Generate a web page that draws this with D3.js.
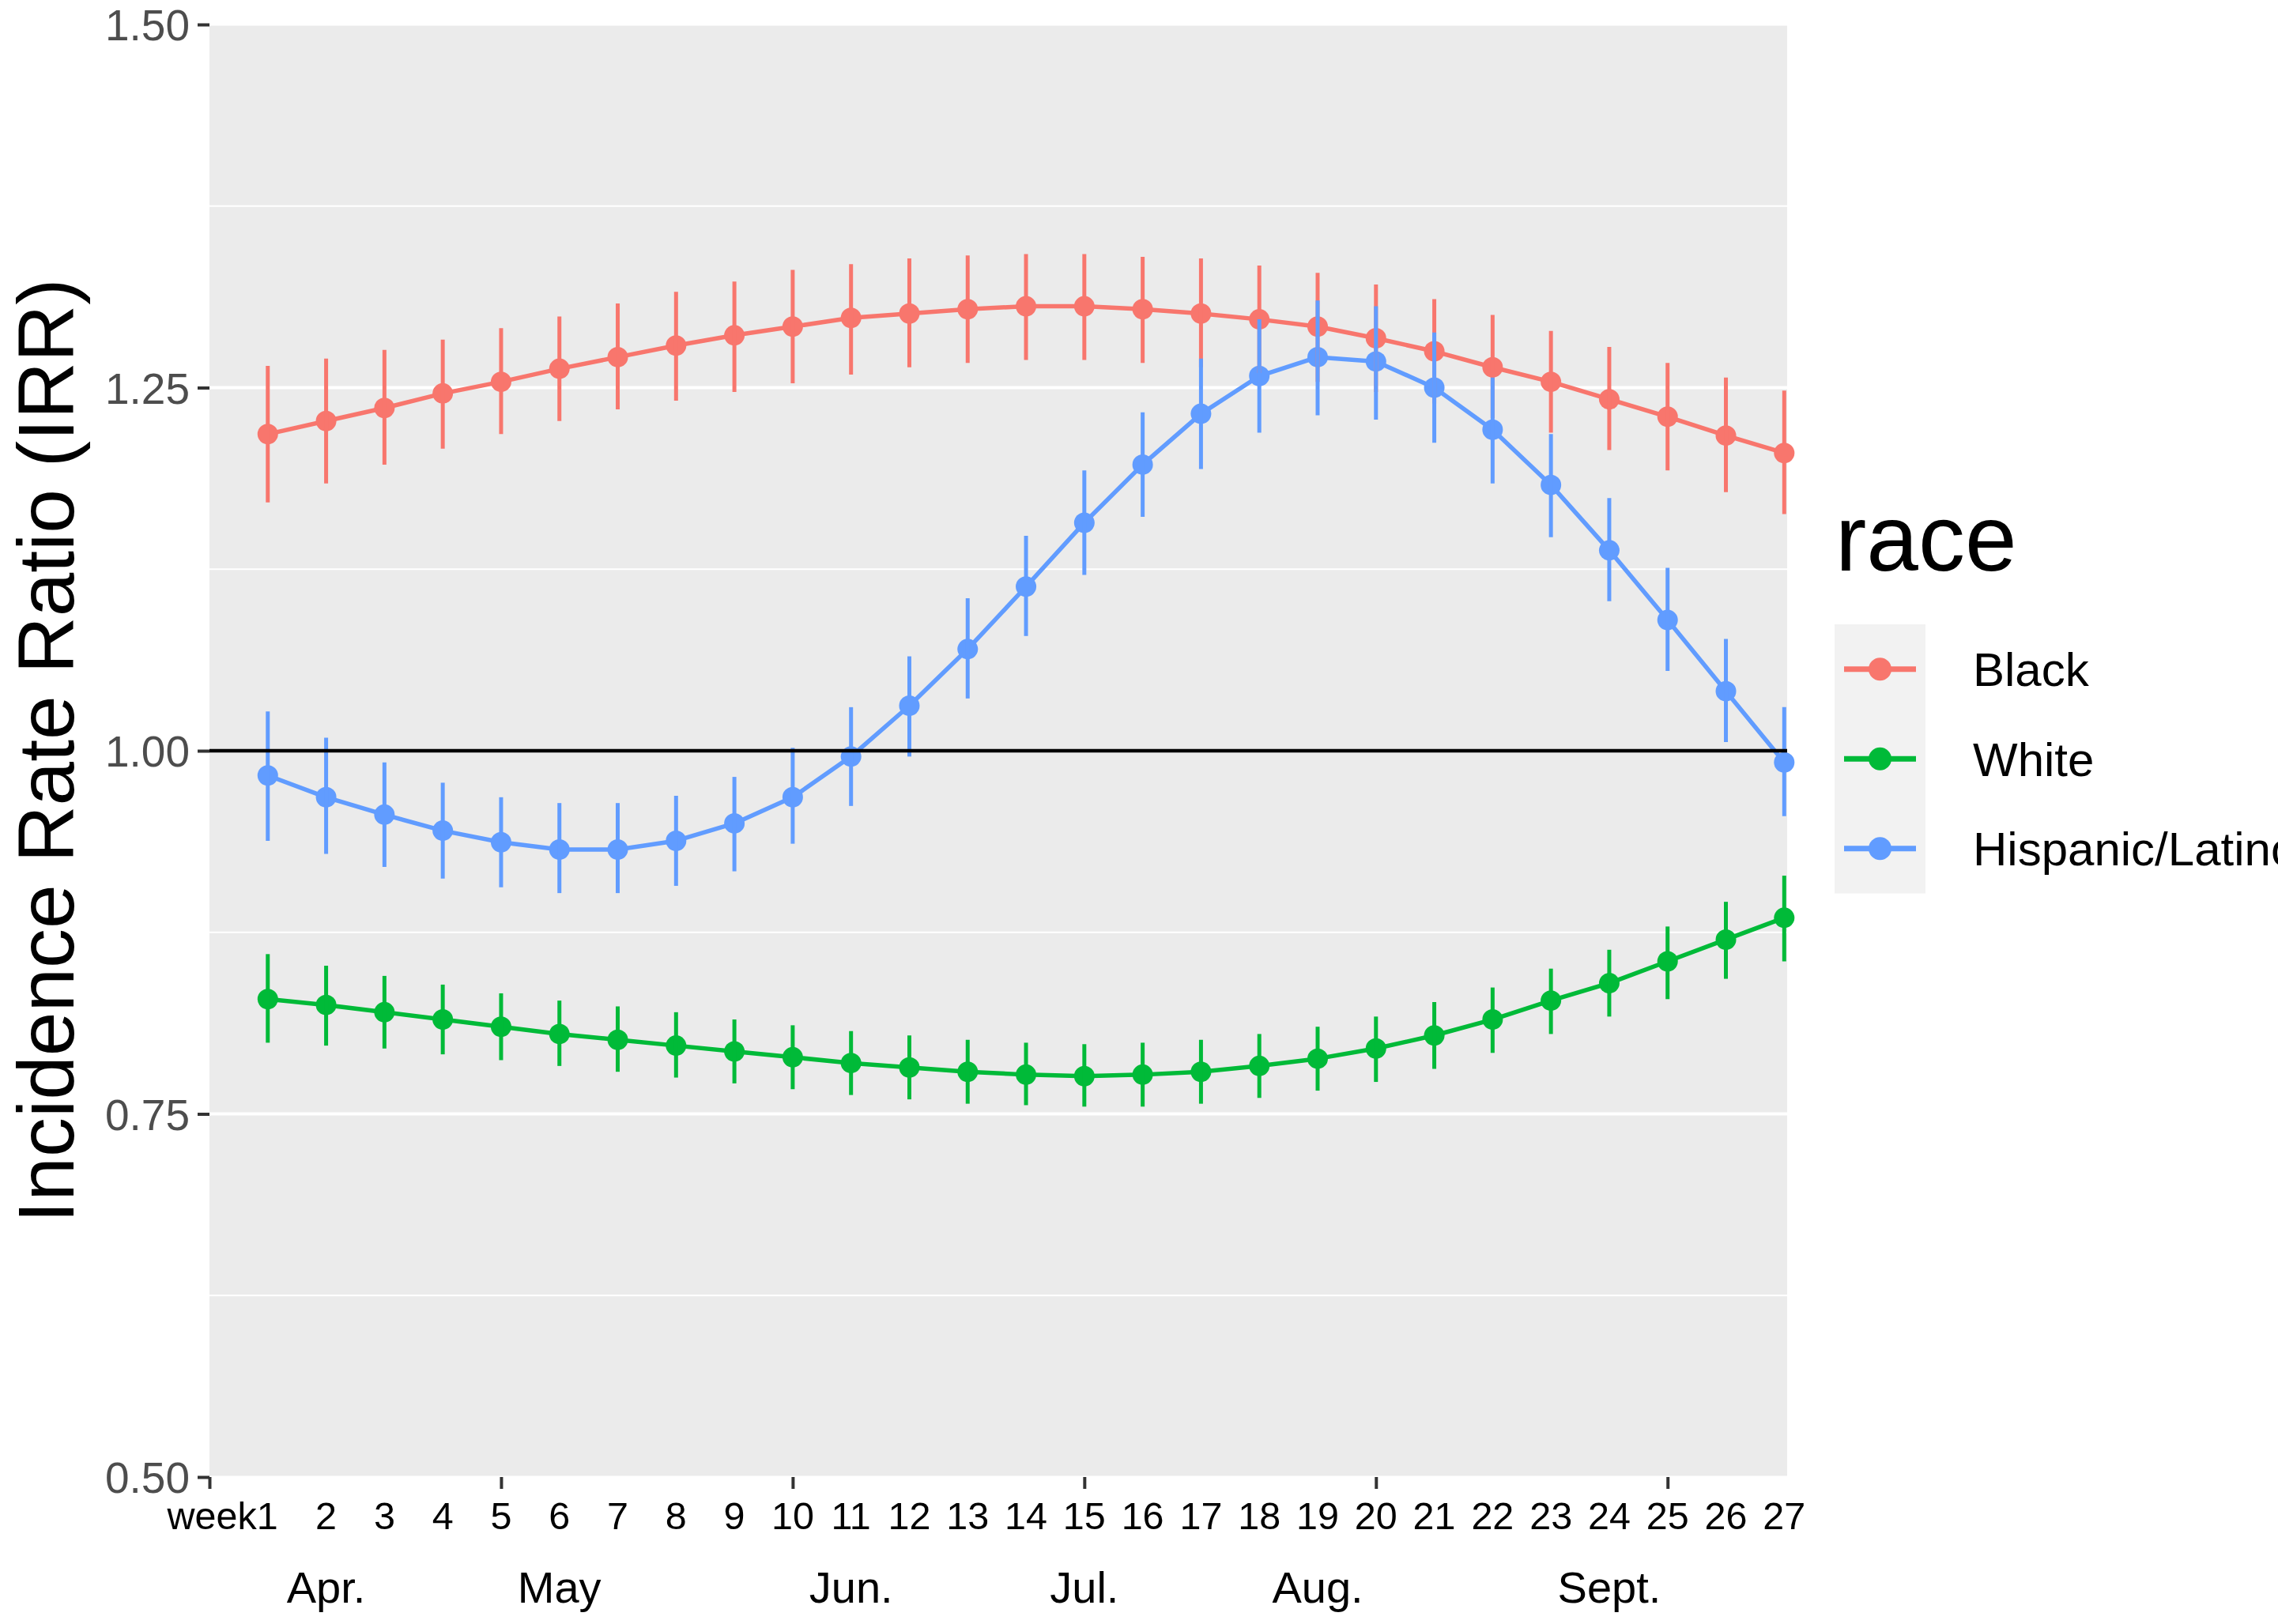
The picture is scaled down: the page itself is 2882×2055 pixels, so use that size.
<!DOCTYPE html>
<html>
<head>
<meta charset="utf-8">
<script src="https://cdn.jsdelivr.net/npm/d3@7"></script>
<style>
html, body { margin: 0; padding: 0; background: #ffffff; }
svg { display: block; }
text { font-family: "Liberation Sans", Arial, Helvetica, sans-serif; }
</style>
</head>
<body>
<script>
// ---------- data ----------
const weeks = [1,2,3,4,5,6,7,8,9,10,11,12,13,14,15,16,17,18,19,20,21,22,23,24,25,26,27];
const races = ["Black", "White", "Hispanic/Latino"];
const raceColors = ["#F8766D", "#00BA38", "#619CFF"];

const blackIRR   = [1.218,1.227,1.236,1.246,1.254,1.263,1.271,1.279,1.286,1.292,1.298,1.301,1.304,1.306,1.306,1.304,1.301,1.297,1.292,1.284,1.275,1.264,1.254,1.242,1.230,1.217,1.205];
const blackLow   = [1.171,1.184,1.197,1.208,1.218,1.227,1.235,1.241,1.247,1.253,1.259,1.264,1.267,1.269,1.269,1.267,1.264,1.260,1.254,1.247,1.239,1.229,1.219,1.207,1.193,1.178,1.163];
const blackHigh  = [1.265,1.270,1.276,1.283,1.291,1.299,1.308,1.316,1.323,1.331,1.335,1.339,1.341,1.342,1.342,1.340,1.339,1.334,1.329,1.321,1.311,1.300,1.289,1.278,1.267,1.257,1.248];

const whiteIRR   = [0.829,0.825,0.820,0.815,0.810,0.805,0.801,0.797,0.793,0.789,0.785,0.782,0.779,0.777,0.776,0.777,0.779,0.783,0.788,0.795,0.804,0.815,0.828,0.840,0.855,0.870,0.885];
const whiteLow   = [0.799,0.797,0.795,0.791,0.787,0.783,0.779,0.775,0.771,0.767,0.763,0.760,0.757,0.756,0.755,0.755,0.757,0.761,0.766,0.772,0.781,0.792,0.805,0.817,0.829,0.843,0.855];
const whiteHigh  = [0.860,0.852,0.845,0.839,0.833,0.828,0.824,0.820,0.815,0.811,0.807,0.804,0.801,0.799,0.798,0.799,0.801,0.805,0.810,0.817,0.827,0.837,0.850,0.863,0.879,0.896,0.914];

const hispIRR    = [0.983,0.968,0.956,0.945,0.937,0.932,0.932,0.938,0.950,0.968,0.996,1.031,1.070,1.113,1.157,1.197,1.232,1.258,1.271,1.268,1.250,1.221,1.183,1.138,1.090,1.041,0.992];
const hispLow    = [0.938,0.929,0.920,0.912,0.906,0.902,0.902,0.907,0.917,0.936,0.962,0.996,1.036,1.079,1.121,1.161,1.194,1.219,1.231,1.228,1.212,1.184,1.147,1.103,1.055,1.006,0.955];
const hispHigh   = [1.027,1.009,0.992,0.978,0.968,0.964,0.964,0.969,0.982,1.002,1.030,1.065,1.105,1.148,1.193,1.233,1.270,1.297,1.310,1.306,1.288,1.257,1.218,1.174,1.126,1.077,1.030];

const yTickValues = [0.50, 0.75, 1.00, 1.25, 1.50];
const yMinorValues = [0.625, 0.875, 1.125, 1.375];
const xTickValues = [0, 5, 10, 15, 20, 25];
const weekLabels = ["week1","2","3","4","5","6","7","8","9","10","11","12","13","14","15","16","17","18","19","20","21","22","23","24","25","26","27"];
const monthLabels = ["Apr.", "May", "Jun.", "Jul.", "Aug.", "Sept."];
const monthWeeks = [2, 6, 11, 15, 19, 24];
const yTitle = "Incidence Rate Ratio (IRR)";
const legendTitle = "race";

// ---------- build series ----------
const series = [
  { name: races[0], color: raceColors[0], est: blackIRR, lo: blackLow, hi: blackHigh },
  { name: races[1], color: raceColors[1], est: whiteIRR, lo: whiteLow, hi: whiteHigh },
  { name: races[2], color: raceColors[2], est: hispIRR,  lo: hispLow,  hi: hispHigh }
].map(s => ({ ...s, pts: weeks.map((w, i) => ({ w, v: s.est[i], lo: s.lo[i], hi: s.hi[i] })) }));

// ---------- layout ----------
const W = 2882, H = 2055;
const panel = { left: 265, right: 2261, top: 31, bottom: 1869 };

const svg = d3.select("body").append("svg").attr("width", W).attr("height", H);

const x = d3.scaleLinear().domain([0, 27.05]).range([panel.left, panel.right]);
const y = d3.scaleLinear().domain([0.5, 1.5]).range([panel.bottom, panel.top]);

// panel background
svg.append("rect")
  .attr("x", panel.left).attr("y", y(1.5) + 1.5)
  .attr("width", panel.right - panel.left).attr("height", y(0.5) - y(1.5) - 3)
  .attr("fill", "#EBEBEB");

svg.append("defs").append("clipPath").attr("id", "pclip")
  .append("rect").attr("x", panel.left).attr("y", panel.top)
  .attr("width", panel.right - panel.left).attr("height", panel.bottom - panel.top);

const grid = svg.append("g").attr("clip-path", "url(#pclip)");
grid.selectAll("line.minor").data(yMinorValues).join("line")
  .attr("class", "minor")
  .attr("x1", panel.left).attr("x2", panel.right)
  .attr("y1", d => y(d)).attr("y2", d => y(d))
  .attr("stroke", "#ffffff").attr("stroke-width", 2);
grid.selectAll("line.major").data(yTickValues.filter(v => v > 0.5 && v < 1.5)).join("line")
  .attr("class", "major")
  .attr("x1", panel.left).attr("x2", panel.right)
  .attr("y1", d => y(d)).attr("y2", d => y(d))
  .attr("stroke", "#ffffff").attr("stroke-width", 4);

// data layers
const plot = svg.append("g");
const line = d3.line().x(d => x(d.w)).y(d => y(d.v));

plot.selectAll("path.series").data(series).join("path")
  .attr("class", "series")
  .attr("d", d => line(d.pts))
  .attr("fill", "none")
  .attr("stroke", d => d.color)
  .attr("stroke-width", 5.5)
  .attr("stroke-linejoin", "round");

series.forEach(s => {
  plot.append("g").selectAll("circle").data(s.pts).join("circle")
    .attr("cx", d => x(d.w)).attr("cy", d => y(d.v))
    .attr("r", 13).attr("fill", s.color);
});

series.forEach(s => {
  plot.append("g").selectAll("line").data(s.pts).join("line")
    .attr("x1", d => x(d.w)).attr("x2", d => x(d.w))
    .attr("y1", d => y(d.lo)).attr("y2", d => y(d.hi))
    .attr("stroke", s.color).attr("stroke-width", 5);
});

// reference line at 1
svg.append("line")
  .attr("x1", panel.left).attr("x2", panel.right)
  .attr("y1", y(1)).attr("y2", y(1))
  .attr("stroke", "#000000").attr("stroke-width", 4.5);

// y axis
const yAxis = d3.axisLeft(y).tickValues(yTickValues).tickFormat(d3.format(".2f")).tickSize(15).tickPadding(10);
const yg = svg.append("g").attr("transform", `translate(${panel.left},0)`).call(yAxis);
yg.select(".domain").remove();
yg.selectAll(".tick line").attr("stroke", "#333333").attr("stroke-width", 4);
yg.selectAll(".tick text").attr("fill", "#4D4D4D").attr("font-size", 55)
  .attr("font-family", "'Liberation Sans', Arial, sans-serif").attr("dy", "0.36em");

// x axis ticks
const xAxis = d3.axisBottom(x).tickValues(xTickValues).tickFormat("").tickSize(15);
const xg = svg.append("g").attr("transform", `translate(0,${panel.bottom})`).call(xAxis);
xg.select(".domain").remove();
xg.selectAll(".tick line").attr("stroke", "#333333").attr("stroke-width", 4);

// week labels
svg.append("g").selectAll("text").data(weeks).join("text")
  .attr("x", (d, i) => i === 0 ? x(d) + 13 : x(d))
  .attr("y", 1935)
  .attr("text-anchor", (d, i) => i === 0 ? "end" : "middle")
  .attr("font-size", 48.5)
  .attr("fill", "#000000")
  .text((d, i) => weekLabels[i]);

// month labels
svg.append("g").selectAll("text").data(monthLabels).join("text")
  .attr("x", (d, i) => x(monthWeeks[i]))
  .attr("y", 2028)
  .attr("text-anchor", "middle")
  .attr("font-size", 56)
  .attr("fill", "#000000")
  .text(d => d);

// y title
svg.append("text")
  .attr("transform", `translate(93, ${(panel.top + panel.bottom) / 2}) rotate(-90)`)
  .attr("text-anchor", "middle")
  .attr("font-size", 100)
  .attr("fill", "#000000")
  .text(yTitle);

// legend
const leg = svg.append("g");
leg.append("text").attr("x", 2322).attr("y", 722)
  .attr("font-size", 118).attr("fill", "#000000").text(legendTitle);

const keyTop = 790, keyH = 113.5, keyLeft = 2321, keyW = 115;
leg.append("rect").attr("x", keyLeft).attr("y", keyTop)
  .attr("width", keyW).attr("height", keyH * 3).attr("fill", "#F2F2F2");

const items = leg.selectAll("g.item").data(series).join("g")
  .attr("class", "item")
  .attr("transform", (d, i) => `translate(0, ${keyTop + keyH * i + keyH / 2})`);
items.append("line").attr("x1", keyLeft + 12).attr("x2", keyLeft + 103)
  .attr("y1", 0).attr("y2", 0)
  .attr("stroke", d => d.color).attr("stroke-width", 7);
items.append("circle").attr("cx", keyLeft + 57.5).attr("cy", 0).attr("r", 14.5)
  .attr("fill", d => d.color);
items.append("text").attr("x", 2496).attr("y", 21.5)
  .attr("font-size", 60).attr("fill", "#000000").text(d => d.name);
</script>
</body>
</html>
